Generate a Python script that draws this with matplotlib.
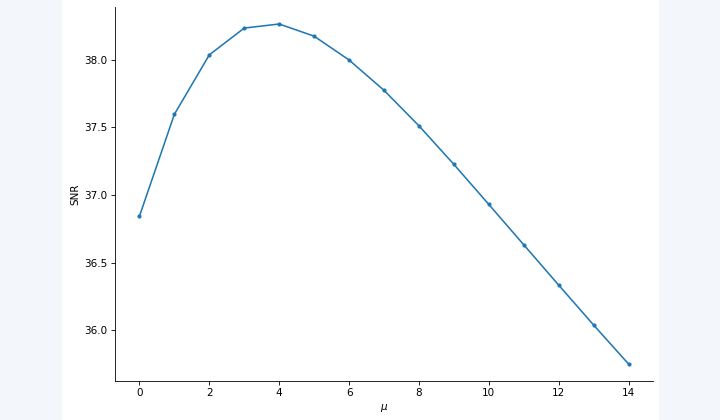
import matplotlib
matplotlib.use("Agg")
import matplotlib.pyplot as plt
from matplotlib.patches import Rectangle

mu = [0, 1, 2, 3, 4, 5, 6, 7, 8, 9, 10, 11, 12, 13, 14]
snr = [36.843, 37.596, 38.035, 38.233, 38.263, 38.173, 37.997, 37.773,
       37.511, 37.226, 36.930, 36.632, 36.334, 36.039, 35.751]

s = 0.75
plt.rcParams.update({
    "font.size": 10 * s,
    "axes.linewidth": 0.8 * s,
    "xtick.major.width": 0.8 * s,
    "ytick.major.width": 0.8 * s,
    "xtick.major.size": 3.5 * s,
    "ytick.major.size": 3.5 * s,
    "xtick.major.pad": 3.5 * s,
    "ytick.major.pad": 3.5 * s,
    "axes.labelpad": 4 * s,
})

fig = plt.figure(figsize=(7.2, 4.2), dpi=100, facecolor="#f3f7fc")
fig.patches.append(Rectangle((62 / 720, 0), (659 - 62) / 720, 1,
                             transform=fig.transFigure, facecolor="white",
                             edgecolor="none", zorder=-10))
ax = fig.add_axes([115 / 720, (420 - 381) / 420, (653 - 115) / 720, (381 - 7) / 420])
ax.set_facecolor("white")
ax.plot(mu, snr, marker=".", markersize=4, linewidth=1.5 * s, color="#1f77b4")
ax.spines["top"].set_visible(False)
ax.spines["right"].set_visible(False)
ax.set_xlabel(r"$\mu$")
ax.set_ylabel("SNR")
ax.set_xticks([0, 2, 4, 6, 8, 10, 12, 14])
ax.set_yticks([36.0, 36.5, 37.0, 37.5, 38.0])
fig.savefig("out.png", dpi=100, facecolor=fig.get_facecolor())
